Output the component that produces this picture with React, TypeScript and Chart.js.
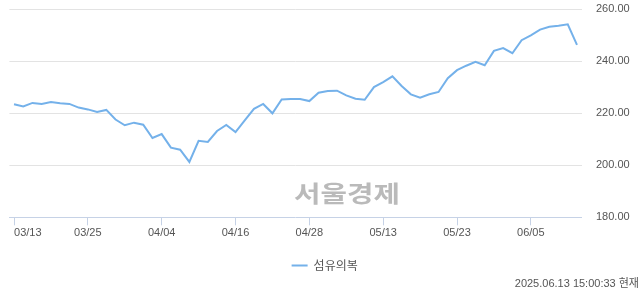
import React, { useEffect, useRef } from "react";
import { Chart, registerables } from "chart.js";

Chart.register(...registerables);

// Trading days shown on the category axis
const dates = [
  "03/13", "03/14", "03/17", "03/18", "03/19", "03/20", "03/21", "03/24",
  "03/25", "03/26", "03/27", "03/28", "03/31", "04/01", "04/02", "04/03",
  "04/04", "04/07", "04/08", "04/09", "04/10", "04/11", "04/14", "04/15",
  "04/16", "04/17", "04/18", "04/21", "04/22", "04/23", "04/24", "04/25",
  "04/28", "04/29", "04/30", "05/02", "05/07", "05/08", "05/09", "05/12",
  "05/13", "05/14", "05/15", "05/16", "05/19", "05/20", "05/21", "05/22",
  "05/23", "05/26", "05/27", "05/28", "05/29", "05/30", "06/02", "06/04",
  "06/05", "06/09", "06/10", "06/11", "06/12", "06/13",
];

// Sector index closing values
const closes = [
  223.5, 222.6, 224.0, 223.6, 224.3, 223.9, 223.6, 222.2,
  221.5, 220.5, 221.3, 217.6, 215.4, 216.4, 215.6, 210.5,
  212.0, 206.8, 206.0, 201.3, 209.4, 209.0, 213.2, 215.5,
  212.8, 217.3, 221.7, 223.6, 220.0, 225.3, 225.5, 225.5,
  224.7, 227.9, 228.6, 228.7, 226.9, 225.6, 225.2, 230.1,
  232.0, 234.2, 230.5, 227.3, 226.0, 227.3, 228.2, 233.5,
  236.6, 238.3, 239.8, 238.5, 244.0, 245.1, 243.1, 248.1,
  250.0, 252.2, 253.3, 253.7, 254.2, 246.3,
];

// Dates that carry a label and tick mark on the x axis
const tickDates = ["03/13", "03/25", "04/04", "04/16", "04/28", "05/13", "05/23", "06/05"];

const seriesName = "섬유의복";
const yMin = 180;
const yMax = 260;
const yStep = 20;
const brandText = "서울경제";
const stampText = "2025.06.13 15:00:33 현재";

const lineColor = "#74b1ea";
const axisColor = "#c6d2e6";
const gridColor = "#e3e3e3";
const textColor = "#555555";
const latinFont = "'Liberation Sans', 'Noto Sans CJK KR', sans-serif";
const clear = "rgba(0,0,0,0)";

// Faint masthead text behind the line
const brandMark = {
  id: "brandMark",
  beforeDatasetsDraw(chart: any) {
    const { ctx } = chart;
    ctx.save();
    ctx.translate(347, 193);
    ctx.scale(1.25, 1);
    ctx.font = "bold 23px 'Noto Sans CJK KR', sans-serif";
    ctx.fillStyle = "#bababa";
    ctx.textAlign = "center";
    ctx.textBaseline = "middle";
    ctx.fillText(brandText, 0, 0);
    ctx.restore();
  },
};

export default function App() {
  const canvasRef = useRef<HTMLCanvasElement | null>(null);

  useEffect(() => {
    if (!canvasRef.current) return;
    const chart = new Chart(canvasRef.current, {
      type: "line",
      data: {
        labels: dates,
        datasets: [
          {
            label: seriesName,
            data: closes,
            borderColor: lineColor,
            backgroundColor: lineColor,
            borderWidth: 2,
            pointRadius: 0,
            pointHoverRadius: 0,
            tension: 0,
            fill: false,
          },
        ],
      },
      options: {
        responsive: false,
        maintainAspectRatio: false,
        animation: false,
        events: [],
        layout: { padding: { top: 9.3, left: 9.4, right: 0, bottom: 12.5 } },
        plugins: {
          tooltip: { enabled: false },
          legend: {
            position: "bottom",
            labels: {
              usePointStyle: true,
              pointStyle: "line",
              pointStyleWidth: 16,
              color: textColor,
              padding: 10,
              font: { size: 12, family: "'Noto Sans CJK KR', sans-serif" },
            },
          },
        },
        scales: {
          x: {
            type: "category",
            offset: true,
            afterFit: (s: any) => {
              s.height = 32.2;
            },
            grid: {
              display: true,
              drawOnChartArea: false,
              drawTicks: true,
              tickLength: 8,
              offset: false,
              color: (c: any) =>
                tickDates.includes(dates[c.index]) ? axisColor : clear,
            },
            border: { display: true, color: axisColor, width: 1 },
            ticks: {
              autoSkip: false,
              maxRotation: 0,
              minRotation: 0,
              align: "inner",
              padding: 1,
              color: textColor,
              font: { size: 11, family: latinFont },
              callback: (_v: any, i: number) =>
                tickDates.includes(dates[i]) ? dates[i] : "",
            },
          },
          y: {
            position: "right",
            min: yMin,
            max: yMax,
            afterFit: (s: any) => {
              s.width = 58.4;
            },
            grid: {
              drawTicks: true,
              tickLength: 14.4,
              tickColor: clear,
              color: (c: any) =>
                c.tick && c.tick.value === yMin ? clear : gridColor,
            },
            border: { display: false },
            ticks: {
              stepSize: yStep,
              padding: 0,
              color: textColor,
              font: { size: 11, family: latinFont },
              callback: (v: any) => Number(v).toFixed(2),
            },
          },
        },
      },
      plugins: [brandMark],
    });
    return () => chart.destroy();
  }, []);

  return (
    <div
      style={{
        position: "fixed",
        left: 0,
        top: 0,
        width: 640,
        height: 294,
        background: "#ffffff",
        overflow: "hidden",
      }}
    >
      <canvas ref={canvasRef} width={640} height={294} style={{ display: "block" }} />
      <div
        style={{
          position: "absolute",
          right: 1,
          top: 276,
          font: `11px ${latinFont}`,
          lineHeight: "14px",
          color: textColor,
          whiteSpace: "nowrap",
        }}
      >
        {stampText}
      </div>
    </div>
  );
}
